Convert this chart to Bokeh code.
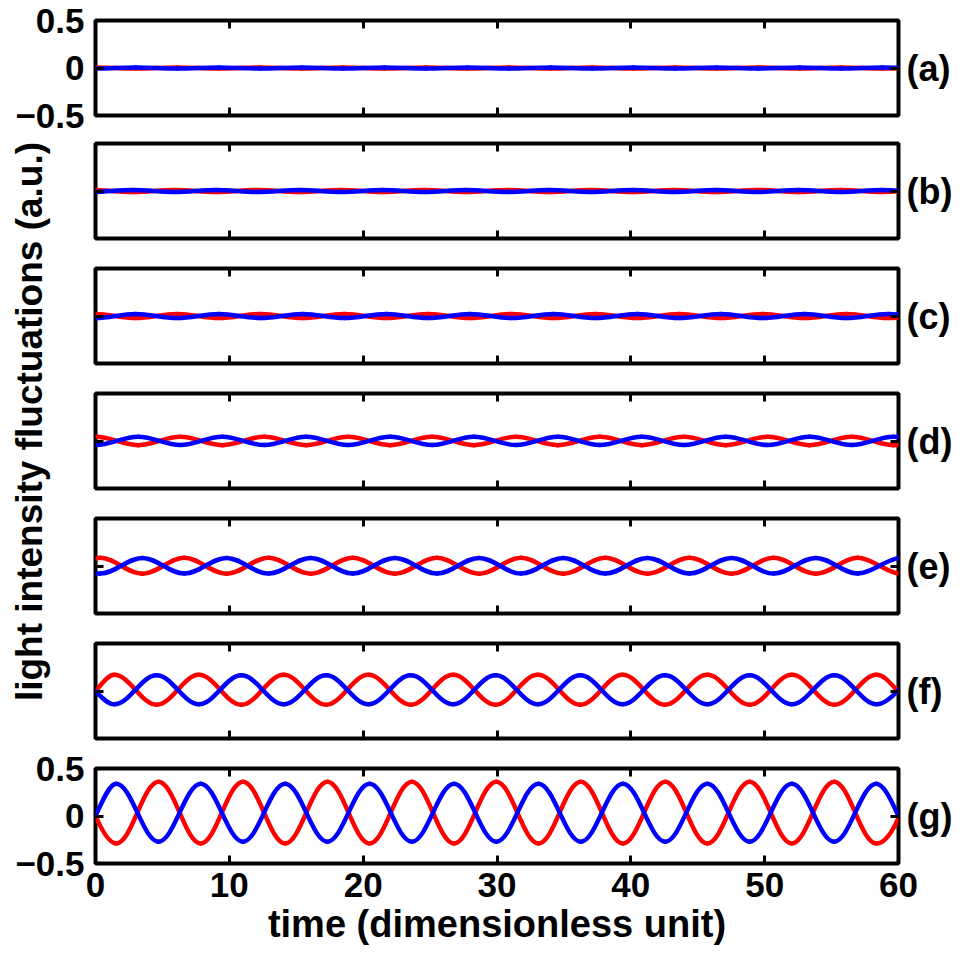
import math
from bokeh.plotting import figure
from bokeh.layouts import column, row
from bokeh.models import (Range1d, FixedTicker, LinearAxis, Label, ColumnDataSource,
                          CustomLabelingPolicy)
from bokeh.embed import file_html
from bokeh.resources import INLINE

# ---------------- data ----------------
panel_labels = ["(a)", "(b)", "(c)", "(d)", "(e)", "(f)", "(g)"]
x_ticks = [0, 10, 20, 30, 40, 50, 60]
y_ticks = [-0.5, 0, 0.5]
y_tick_labels = ["\u22120.5", "0", "0.5"]
x_label = "time (dimensionless unit)"
y_label = "light intensity fluctuations (a.u.)"

# key points of every curve: start, each extremum, end
t_a = [0, 3.0, 6.1, 9.2, 12.3, 15.4, 18.5, 21.6, 24.7, 27.8, 30.9, 34.0, 37.1, 40.2, 43.3, 46.4, 49.5, 52.6, 55.7, 58.8, 60]
red_a = [0.0055, -0.0055, 0.0055, -0.0055, 0.0055, -0.0055, 0.0055, -0.0055, 0.0055, -0.0055, 0.0055,
         -0.0055, 0.0055, -0.0055, 0.0055, -0.0055, 0.0055, -0.0055, 0.0055, -0.0055, -0.002]
blue_a = [-0.0055, 0.0055, -0.0055, 0.0055, -0.0055, 0.0055, -0.0055, 0.0055, -0.0055, 0.0055, -0.0055,
          0.0055, -0.0055, 0.0055, -0.0055, 0.0055, -0.0055, 0.0055, -0.0055, 0.0055, 0.002]

t_b = [0, 2.80, 5.91, 9.02, 12.13, 15.24, 18.35, 21.46, 24.57, 27.68, 30.79, 33.90, 37.01, 40.12, 43.23, 46.34, 49.45, 52.56, 55.67, 58.78, 60]
red_b = [0.010, -0.011, 0.011, -0.011, 0.011, -0.011, 0.011, -0.011, 0.011, -0.011, 0.011,
         -0.011, 0.011, -0.011, 0.011, -0.011, 0.011, -0.011, 0.011, -0.011, -0.004]
blue_b = [-0.010, 0.011, -0.011, 0.011, -0.011, 0.011, -0.011, 0.011, -0.011, 0.011, -0.011,
          0.011, -0.011, 0.011, -0.011, 0.011, -0.011, 0.011, -0.011, 0.011, 0.004]

t_c = [0, 2.98, 6.10, 9.23, 12.35, 15.48, 18.60, 21.73, 24.85, 27.98, 31.10, 34.23, 37.35, 40.48, 43.60, 46.73, 49.85, 52.98, 56.10, 59.23, 60]
red_c = [0.022, -0.022, 0.022, -0.022, 0.022, -0.022, 0.022, -0.022, 0.022, -0.022, 0.022,
         -0.022, 0.022, -0.022, 0.022, -0.022, 0.022, -0.022, 0.022, -0.022, -0.016]
blue_c = [-0.021, 0.022, -0.021, 0.022, -0.021, 0.022, -0.021, 0.022, -0.021, 0.022, -0.021,
          0.022, -0.021, 0.022, -0.021, 0.022, -0.021, 0.022, -0.021, 0.022, 0.016]

t_d = [0, 3.20, 6.34, 9.47, 12.61, 15.74, 18.88, 22.01, 25.15, 28.28, 31.42, 34.55, 37.69, 40.82, 43.96, 47.09, 50.23, 53.36, 56.50, 59.63, 60]
red_d = [0.045, -0.044, 0.045, -0.044, 0.045, -0.044, 0.045, -0.044, 0.045, -0.044, 0.045,
         -0.044, 0.045, -0.044, 0.045, -0.044, 0.045, -0.044, 0.045, -0.044, -0.040]
blue_d = [-0.043, 0.044, -0.043, 0.044, -0.043, 0.044, -0.043, 0.044, -0.043, 0.044, -0.043,
          0.044, -0.043, 0.044, -0.043, 0.044, -0.043, 0.044, -0.043, 0.044, 0.041]

t_e = [0, 0.35, 3.50, 6.64, 9.79, 12.93, 16.08, 19.22, 22.37, 25.51, 28.66, 31.80, 34.95, 38.09, 41.24, 44.38, 47.53, 50.67, 53.82, 56.96, 60]
red_e = [0.078, 0.087, -0.082, 0.087, -0.082, 0.087, -0.082, 0.087, -0.082, 0.087, -0.082,
         0.087, -0.082, 0.087, -0.082, 0.087, -0.082, 0.087, -0.082, 0.087, -0.080]
blue_e = [-0.076, -0.080, 0.085, -0.080, 0.085, -0.080, 0.085, -0.080, 0.085, -0.080, 0.085,
          -0.080, 0.085, -0.080, 0.085, -0.080, 0.085, -0.080, 0.085, -0.080, 0.083]

t_f = [0, 1.40, 4.57, 7.73, 10.90, 14.06, 17.23, 20.39, 23.56, 26.72, 29.89, 33.05, 36.22, 39.38, 42.55, 45.71, 48.88, 52.04, 55.21, 58.37, 60]
red_f = [0.0, 0.170, -0.145, 0.170, -0.145, 0.170, -0.145, 0.170, -0.145, 0.170, -0.145,
         0.170, -0.145, 0.170, -0.145, 0.170, -0.145, 0.170, -0.145, 0.170, -0.010]
blue_f = [0.0, -0.140, 0.165, -0.140, 0.165, -0.140, 0.165, -0.140, 0.165, -0.140, 0.165,
          -0.140, 0.165, -0.140, 0.165, -0.140, 0.165, -0.140, 0.165, -0.140, 0.010]

t_g = [0, 1.55, 4.71, 7.86, 11.02, 14.17, 17.33, 20.48, 23.64, 26.79, 29.95, 33.10, 36.26, 39.41, 42.57, 45.72, 48.88, 52.03, 55.19, 58.34, 60]
red_g = [0.0, -0.29, 0.36, -0.29, 0.36, -0.29, 0.36, -0.29, 0.36, -0.29, 0.36,
         -0.29, 0.36, -0.29, 0.36, -0.29, 0.36, -0.29, 0.36, -0.29, -0.02]
blue_g = [0.0, 0.34, -0.27, 0.34, -0.27, 0.34, -0.27, 0.34, -0.27, 0.34, -0.27,
          0.34, -0.27, 0.34, -0.27, 0.34, -0.27, 0.34, -0.27, 0.34, 0.0]

panels = [(t_a, red_a, blue_a), (t_b, red_b, blue_b), (t_c, red_c, blue_c), (t_d, red_d, blue_d),
          (t_e, red_e, blue_e), (t_f, red_f, blue_f), (t_g, red_g, blue_g)]

# ---------------- styling ----------------
FONT = "Liberation Sans"
RED = "#ff0000"
BLUE = "#0000ff"
LW = 4.5


def smooth_segments(ts, ys):
    """Smooth rendering through the key points: horizontal tangent at extrema,
    sinusoid-like tangent at the two open ends (drawn with Bezier glyphs)."""
    n = len(ts)
    m = [0.0] * n

    def end_slope(y0, y1, y2, half):
        c = (y1 + y2) / 2.0
        a = abs(y1 - y2) / 2.0
        w = math.pi / half
        return w * math.sqrt(max(a * a - (y0 - c) ** 2, 0.0))

    s0 = end_slope(ys[0], ys[1], ys[2], ts[2] - ts[1])
    m[0] = s0 if ys[1] > ys[0] else -s0
    s1 = end_slope(ys[-1], ys[-2], ys[-3], ts[-2] - ts[-3])
    m[-1] = s1 if ys[-1] > ys[-2] else -s1
    d = dict(x0=[], y0=[], x1=[], y1=[], cx0=[], cy0=[], cx1=[], cy1=[])
    for i in range(n - 1):
        dt = ts[i + 1] - ts[i]
        k = 0.3634 if (abs(m[i]) < 1e-6 and abs(m[i + 1]) < 1e-6) else 1.0 / 3.0
        d["x0"].append(ts[i]); d["y0"].append(ys[i])
        d["x1"].append(ts[i + 1]); d["y1"].append(ys[i + 1])
        d["cx0"].append(ts[i] + k * dt); d["cy0"].append(ys[i] + m[i] * k * dt)
        d["cx1"].append(ts[i + 1] - k * dt); d["cy1"].append(ys[i + 1] - m[i + 1] * k * dt)
    return ColumnDataSource(d)


def style_axis(ax, ticks, mode, size="1px", standoff=0, overrides=None):
    """mode: 'all' shows every tick label, 'none' hides them, 'mid' shows only the middle one."""
    ax.ticker = FixedTicker(ticks=ticks)
    ax.axis_line_color = None
    ax.major_tick_in = 8
    ax.major_tick_out = 0
    ax.major_tick_line_width = 3
    ax.major_tick_line_color = "black"
    ax.minor_tick_line_color = None
    ax.major_label_text_font = FONT
    ax.major_label_text_font_style = "bold"
    ax.major_label_text_color = "black"
    ax.major_label_text_font_size = size
    ax.major_label_standoff = standoff
    if overrides:
        ax.major_label_overrides = overrides
    if mode == "none":
        ax.major_label_policy = CustomLabelingPolicy(code="return []")
    elif mode == "mid":
        ax.major_label_policy = CustomLabelingPolicy(code="yield 1")


FRAME_W = 803
FRAME_H = 95
LEFT_FULL = 95
RIGHT_B = 57
FULL_W = LEFT_FULL + FRAME_W + RIGHT_B
LABEL_COL_W = 52

# (top border, bottom border) of each panel
borders = [(20, 20), (8, 15), (15, 15), (15, 15), (15, 15), (15, 8), (22, 94)]

figs = []
for i, (ts, rs, bs) in enumerate(panels):
    first = i == 0
    last = i == len(panels) - 1
    full = first or last
    left_b = LEFT_FULL if full else LEFT_FULL - LABEL_COL_W
    width = FULL_W if full else FULL_W - LABEL_COL_W
    top_b, bot_b = borders[i]
    p = figure(width=width, height=top_b + FRAME_H + bot_b,
               x_range=Range1d(0, 60), y_range=Range1d(-0.5, 0.5),
               output_backend="svg", toolbar_location=None,
               min_border_left=left_b, min_border_right=RIGHT_B,
               min_border_top=top_b, min_border_bottom=bot_b)
    p.xgrid.visible = False
    p.ygrid.visible = False
    p.outline_line_color = "black"
    p.outline_line_width = 4
    p.outline_line_alpha = 1.0
    p.background_fill_color = "white"
    p.border_fill_color = "white"

    bottom_ax = p.xaxis[0]
    left_ax = p.yaxis[0]
    if last:
        style_axis(bottom_ax, x_ticks, "all", "35px", 9)
        bottom_ax.axis_label = x_label
        bottom_ax.axis_label_text_font = FONT
        bottom_ax.axis_label_text_font_style = "bold"
        bottom_ax.axis_label_text_font_size = "38px"
        bottom_ax.axis_label_text_color = "black"
        bottom_ax.axis_label_standoff = 3
    else:
        style_axis(bottom_ax, x_ticks, "none")
    if full:
        style_axis(left_ax, y_ticks, "all", "35px", 11,
                   {y_ticks[j]: y_tick_labels[j] for j in range(3)})
    else:
        style_axis(left_ax, y_ticks, "none")

    top_ax = LinearAxis()
    style_axis(top_ax, x_ticks, "none")
    p.add_layout(top_ax, "above")
    right_ax = LinearAxis()
    style_axis(right_ax, y_ticks, "mid", "36px", 8,
               {-0.5: "", 0: panel_labels[i], 0.5: ""})
    p.add_layout(right_ax, "right")

    p.bezier(x0="x0", y0="y0", x1="x1", y1="y1", cx0="cx0", cy0="cy0", cx1="cx1", cy1="cy1",
             source=smooth_segments(ts, rs), line_color=RED, line_width=LW, line_cap="round")
    p.bezier(x0="x0", y0="y0", x1="x1", y1="y1", cx0="cx0", cy0="cy0", cx1="cx1", cy1="cy1",
             source=smooth_segments(ts, bs), line_color=BLUE, line_width=LW, line_cap="round")
    figs.append(p)

# y label column (beside panels b-f)
col_h = sum(borders[k][0] + FRAME_H + borders[k][1] for k in range(1, 6))
col_top = borders[0][0] + FRAME_H + borders[0][1]
lab = figure(width=LABEL_COL_W, height=col_h,
             x_range=Range1d(0, 1), y_range=Range1d(0, 1),
             x_axis_type=None, y_axis_type=None,
             output_backend="svg", toolbar_location=None,
             min_border_left=0, min_border_right=0, min_border_top=0, min_border_bottom=0)
lab.outline_line_color = None
lab.xgrid.visible = False
lab.ygrid.visible = False
lab.add_layout(Label(x=29.0 / LABEL_COL_W, y=(col_top + col_h - 421.0) / col_h, text=y_label,
                     angle=math.pi / 2, text_align="center", text_baseline="middle",
                     text_font=FONT, text_font_style="bold", text_font_size="37px",
                     text_color="black"))

layout = column(figs[0], row(lab, column(*figs[1:6])), figs[6])

open("out.html", "w").write(file_html(layout, INLINE))
